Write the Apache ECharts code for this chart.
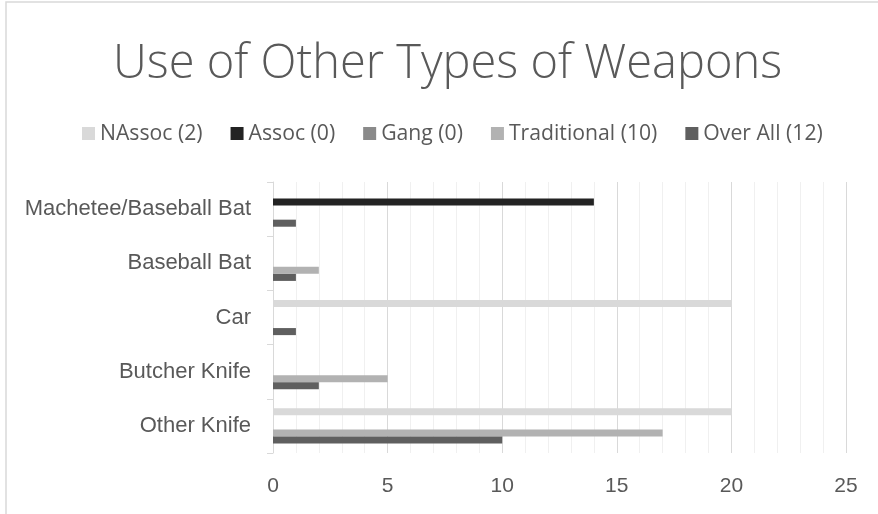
<!DOCTYPE html>
<html>
<head>
<meta charset="utf-8">
<script src="https://cdn.jsdelivr.net/npm/echarts@6/dist/echarts.min.js"></script>
<style>html,body{margin:0;padding:0;background:#fff}#c{width:878px;height:514px}</style>
</head>
<body>
<div id="c"></div>
<script>
const categories = ['Other Knife', 'Butcher Knife', 'Car', 'Baseball Bat', 'Machetee/Baseball Bat'];
const seriesNames = ['NAssoc (2)', 'Assoc (0)', 'Gang (0)', 'Traditional (10)', 'Over All (12)'];
const nAssoc = [20, 0, 20, 0, 0];
const assoc = [0, 0, 0, 0, 14];
const gang = [0, 0, 0, 0, 0];
const traditional = [17, 5, 0, 2, 0];
const overAll = [10, 2, 1, 1, 1];
const xTicks = [0, 5, 10, 15, 20, 25];

const colors = ['#d9d9d9', '#232323', '#8a8a8a', '#b2b2b2', '#5f5f5f'];
const values = [nAssoc, assoc, gang, traditional, overAll];
const font = 'Liberation Sans';

const chart = echarts.init(document.getElementById('c'), null, {renderer: 'canvas'});
chart.setOption({
  animation: false,
  backgroundColor: '#fff',
  title: {
    text: 'Use of Other Types of Weapons',
    left: 108,
    top: 36,
    textStyle: {fontFamily: 'Open Sans', fontWeight: 300, fontSize: 47, color: '#595959'}
  },
  legend: {
    data: seriesNames,
    left: 77,
    top: 118,
    itemWidth: 13,
    itemHeight: 13,
    itemGap: 28,
    icon: 'rect',
    textStyle: {fontFamily: 'Open Sans', fontSize: 21.2, color: '#595959'}
  },
  graphic: [{
    type: 'rect',
    shape: {x: 6, y: 2, width: 1000, height: 1000},
    style: {fill: 'none', stroke: '#d9d9d9', lineWidth: 1.5},
    silent: true
  }],
  grid: {left: 273, right: 32, top: 182, bottom: 61, containLabel: false},
  xAxis: {
    type: 'value',
    min: xTicks[0],
    max: xTicks[xTicks.length - 1],
    interval: 5,
    axisLine: {show: false},
    axisTick: {show: false},
    axisLabel: {fontFamily: font, fontSize: 21, color: '#595959', margin: 23},
    splitLine: {show: true, lineStyle: {color: '#d9d9d9', width: 1}},
    minorTick: {show: false, splitNumber: 5},
    minorSplitLine: {show: true, lineStyle: {color: '#f0f0f0', width: 1}}
  },
  yAxis: {
    type: 'category',
    data: categories,
    axisLine: {show: true, lineStyle: {color: '#d9d9d9', width: 1}},
    axisTick: {show: true, length: 6, lineStyle: {color: '#d9d9d9'}},
    axisLabel: {fontFamily: font, fontSize: 22, color: '#595959', margin: 22}
  },
  series: seriesNames.map((name, i) => ({
    name: name,
    type: 'bar',
    data: values[i],
    barGap: '0%',
    barCategoryGap: '35%',
    itemStyle: {color: colors[i]}
  }))
});
</script>
</body>
</html>
